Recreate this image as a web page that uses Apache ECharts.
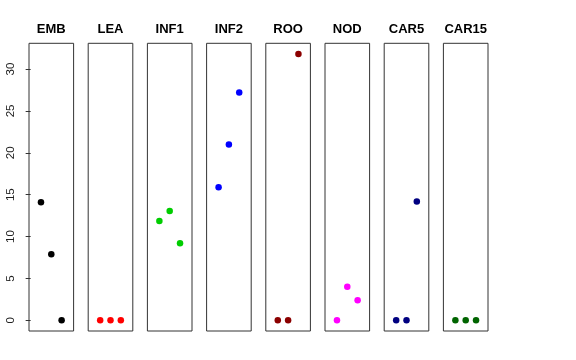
<!DOCTYPE html>
<html><head><meta charset="utf-8">
<script src="https://cdn.jsdelivr.net/npm/echarts@6/dist/echarts.min.js"></script>
<style>html,body{margin:0;padding:0;background:#fff}#c{width:576px;height:360px}</style>
</head><body><div id="c"></div>
<script>
var panels = ["EMB","LEA","INF1","INF2","ROO","NOD","CAR5","CAR15"];
var xPositions = [1, 2, 3];
var valEMB  = [14.1, 7.9, 0];
var valLEA  = [0, 0, 0];
var valINF1 = [11.85, 13.05, 9.2];
var valINF2 = [15.9, 21.0, 27.2];
var valROO  = [0, 0, 31.8];
var valNOD  = [0, 4.0, 2.4];
var valCAR5 = [0, 0, 14.2];
var valCAR15= [0, 0, 0];
var yTicks = [0, 5, 10, 15, 20, 25, 30];
var colors = ["#000000","#FF0000","#00CD00","#0000FF","#8B0000","#FF00FF","#000080","#006400"];

var allVals = [valEMB,valLEA,valINF1,valINF2,valROO,valNOD,valCAR5,valCAR15];
var lefts = [29, 88.2, 147.4, 206.6, 265.8, 325, 384.2, 443.4];
var pw = 44.6, top0 = 43.3, ph = 287.7;
var grids=[], xAxes=[], yAxes=[], series=[], texts=[];
var font = 'Liberation Sans, Arial, sans-serif';
panels.forEach(function(p,i){
  grids.push({left:lefts[i], top:top0, width:pw, height:ph, show:true, borderColor:'#333', borderWidth:1, backgroundColor:'transparent', containLabel:false});
  xAxes.push({type:'value', gridIndex:i, min:-0.16, max:4.16, show:false});
  yAxes.push({type:'value', gridIndex:i, min:-1.27, max:33.07, show:i===0,
    splitLine:{show:false}, axisLine:{show:false},
    axisTick:{show:true, length:5, lineStyle:{color:'#333'}, customValues:yTicks},
    axisLabel:{show:true, rotate:90, margin:12, fontSize:11.5, color:'#222', fontFamily:font, customValues:yTicks}
  });
  texts.push({type:'text', left:null, x:lefts[i]+pw/2, y:29.5, silent:true,
    style:{text:p, align:'center', verticalAlign:'middle', font:'bold 13px '+font, fill:'#000'}});
  series.push({type:'scatter', xAxisIndex:i, yAxisIndex:i, symbolSize:6.5,
    itemStyle:{color:colors[i], opacity:1}, silent:true,
    data: xPositions.map(function(x,k){return [x, allVals[i][k]];})});
});
var chart = echarts.init(document.getElementById('c'), null, {renderer:'canvas'});
chart.setOption({animation:false, graphic:texts, grid:grids, xAxis:xAxes, yAxis:yAxes, series:series});
</script></body></html>
